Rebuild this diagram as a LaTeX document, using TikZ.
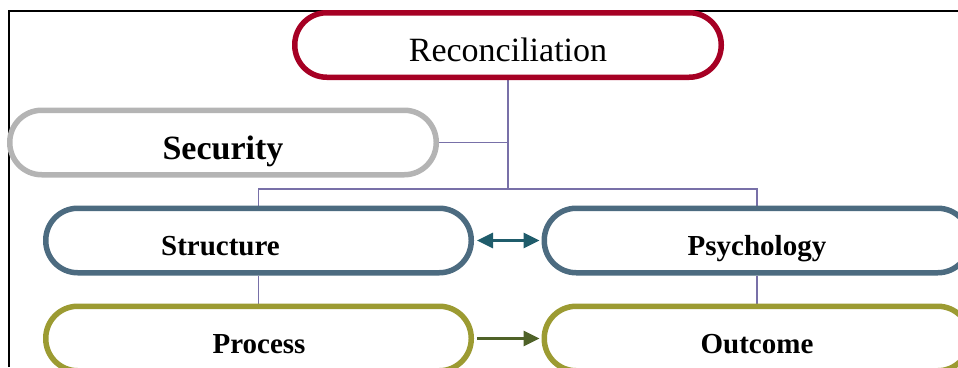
\documentclass[tikz,border=0pt]{standalone}
\usepackage{fontspec}
\setmainfont{Liberation Serif}
\usetikzlibrary{arrows.meta,backgrounds}

\definecolor{recred}{RGB}{166,0,36}
\definecolor{secgray}{RGB}{180,180,180}
\definecolor{slateblue}{RGB}{76,107,128}
\definecolor{olive}{RGB}{156,155,50}
\definecolor{linkc}{RGB}{120,112,168}
\definecolor{tealarrow}{RGB}{31,92,107}
\definecolor{greenarrow}{RGB}{79,98,40}

\begin{document}
\begin{tikzpicture}[x=1pt,y=-1pt,
  pill/.style={draw, line width=5.5pt, rounded corners=32pt, fill=white,
    minimum width=425.5pt, minimum height=64.5pt, inner sep=0pt},
  txt/.style={inner sep=0pt, anchor=base},
  bigtxt/.style={txt, font=\fontsize{34}{40}\selectfont},
  subtxt/.style={txt, font=\bfseries\fontsize{29}{34}\selectfont},
  link/.style={draw=linkc, line width=1.3pt},
  tip/.tip={Triangle[length=16pt 0 0,width=15pt 0 0]},
  twoway/.style={draw=tealarrow, line width=2.8pt, tip-tip,
    shorten <=3pt, shorten >=2pt},
  oneway/.style={draw=greenarrow, line width=2.8pt, -tip,
    shorten <=3pt, shorten >=2pt}
]
\useasboundingbox (0,0) rectangle (958,367);

% outer frame
\draw[black, line width=1.3pt] (9,367) -- (9,11) -- (958,11);

% boxes
\node[pill, draw=recred, minimum width=426.5pt] (rec) at (508,45) {};
\node[pill, draw=secgray, minimum width=426.5pt] (sec) at (223,142.5) {};
\node[pill, draw=slateblue] (str) at (258.5,240.5) {};
\node[pill, draw=slateblue] (psy) at (757,240.5) {};
\node[pill, draw=olive] (pro) at (258.5,338.5) {};
\node[pill, draw=olive] (out) at (757,338.5) {};

% labels
\node[bigtxt] (rect) at (508,61) {Reconciliation};
\node[bigtxt, font=\bfseries\fontsize{34}{40}\selectfont] (sect) at (223,159) {Security};
\node[subtxt] (strt) at (220.5,255) {Structure};
\node[subtxt] (psyt) at (757,255) {Psychology};
\node[subtxt] (prot) at (259,353) {Process};
\node[subtxt] (outt) at (757,353) {Outcome};

% tree connectors
\coordinate (hub) at (508,189);
\begin{scope}[on background layer]
  \draw[link] (rec.south) -- (hub);
  \draw[link] (sec.east) -- (sec.east -| hub);
  \draw[link] (str.north) |- (hub) -| (psy.north);
  \draw[link] (str.south) -- (pro.north);
  \draw[link] (psy.south) -- (out.north);
\end{scope}

% arrows
\draw[twoway] (str.east) -- (psy.west);
\draw[oneway] (pro.east) -- (out.west);
\end{tikzpicture}
\end{document}
